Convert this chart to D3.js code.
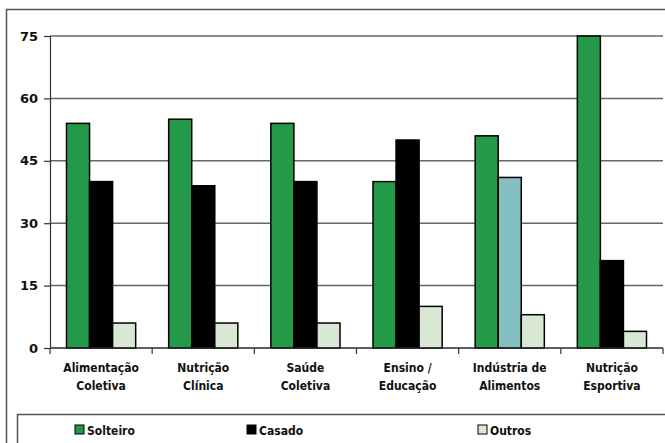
<!DOCTYPE html>
<html>
<head>
<meta charset="utf-8">
<script src="https://cdn.jsdelivr.net/npm/d3@7"></script>
<style>
  body { margin: 0; background: #fff; }
  svg { display: block; }
  .lbl { font-family: "DejaVu Sans Condensed", "DejaVu Sans", sans-serif; font-weight: bold; font-size: 12px; fill: #111; }
</style>
</head>
<body>
<div class="canvas"></div>
<script>
const categories = [
  ['Alimentação', 'Coletiva'],
  ['Nutrição', 'Clínica'],
  ['Saúde', 'Coletiva'],
  ['Ensino /', 'Educação'],
  ['Indústria de', 'Alimentos'],
  ['Nutrição', 'Esportiva']
]
const solteiro = [54, 55, 54, 40, 51, 75]
const casado = [40, 39, 40, 50, 41, 21]
const outros = [6, 6, 6, 10, 8, 4]
const seriesNames = ['Solteiro', 'Casado', 'Outros']
const yTicks = [0, 15, 30, 45, 60, 75]

const colors = ['#249a48', '#000000', '#d9e7d5']
// one bar in the source is drawn in a different colour
const casadoOverride = { 4: '#86bfc1' }

const width = 665, height = 443
const margin = { top: 36, right: 2, bottom: 95, left: 50 }
const graphWidth = width - margin.left - margin.right
const graphHeight = height - margin.top - margin.bottom

const svg = d3.select('.canvas')
  .append('svg')
  .attr('width', width)
  .attr('height', height)

// outer frame
svg.append('rect')
  .attr('x', 6.5).attr('y', 9.5)
  .attr('width', 680).attr('height', 460)
  .attr('fill', 'none').attr('stroke', '#555').attr('stroke-width', 1.5)

const graph = svg.append('g')
  .attr('transform', `translate(${margin.left}, ${margin.top})`)

const y = d3.scaleLinear().domain([0, 75]).range([graphHeight, 0])
const x = d3.scaleBand()
  .domain(d3.range(categories.length))
  .range([0, graphWidth])
const xs = d3.scaleBand()
  .domain(d3.range(3))
  .range([16.5, x.bandwidth() - 16.5])

// gridlines
graph.selectAll('line.grid')
  .data(yTicks)
  .enter().append('line')
  .attr('class', 'grid')
  .attr('x1', 0).attr('x2', graphWidth)
  .attr('y1', d => y(d)).attr('y2', d => y(d))
  .attr('stroke', '#666').attr('stroke-width', 1.5)

// y axis
const yAxis = d3.axisLeft(y).tickValues(yTicks).tickSize(6).tickPadding(6)
const yAxisGroup = graph.append('g').call(yAxis)
yAxisGroup.select('.domain').attr('stroke', '#333').attr('stroke-width', 1.2)
yAxisGroup.selectAll('line').attr('stroke', '#333').attr('stroke-width', 1.2)
yAxisGroup.selectAll('text')
  .attr('font-family', '"DejaVu Sans", sans-serif')
  .attr('font-weight', 'bold')
  .attr('font-size', 13)
  .attr('fill', '#111')

// bars
const series = [solteiro, casado, outros]
series.forEach((vals, s) => {
  graph.selectAll('rect.s' + s)
    .data(vals)
    .enter().append('rect')
    .attr('class', 's' + s)
    .attr('x', (d, i) => x(i) + xs(s))
    .attr('width', xs.bandwidth())
    .attr('y', d => y(d))
    .attr('height', d => graphHeight - y(d))
    .attr('fill', (d, i) => (s === 1 && casadoOverride[i]) ? casadoOverride[i] : colors[s])
    .attr('stroke', '#000')
    .attr('stroke-width', 1.5)
})

// x axis
const xAxisGroup = graph.append('g')
  .attr('transform', `translate(0, ${graphHeight})`)
xAxisGroup.append('line')
  .attr('x1', 0).attr('x2', graphWidth)
  .attr('stroke', '#333').attr('stroke-width', 1.2)
xAxisGroup.selectAll('line.tick')
  .data(d3.range(categories.length + 1))
  .enter().append('line')
  .attr('class', 'tick')
  .attr('x1', d => d * x.step()).attr('x2', d => d * x.step())
  .attr('y1', 0).attr('y2', 6)
  .attr('stroke', '#333').attr('stroke-width', 1.2)
const labels = xAxisGroup.selectAll('text')
  .data(categories)
  .enter().append('text')
  .attr('class', 'lbl')
  .attr('text-anchor', 'middle')
  .attr('transform', (d, i) => `translate(${x(i) + x.bandwidth() / 2}, 24)`)
labels.selectAll('tspan')
  .data(d => d)
  .enter().append('tspan')
  .attr('x', 0)
  .attr('dy', (d, i) => i === 0 ? 0 : 18)
  .text(d => d)

// legend
svg.append('rect')
  .attr('x', 17.5).attr('y', 414.5)
  .attr('width', 660).attr('height', 60)
  .attr('fill', 'none').attr('stroke', '#555').attr('stroke-width', 1.5)

const legendX = [75, 247, 478]
const legend = svg.selectAll('g.leg')
  .data(seriesNames)
  .enter().append('g')
  .attr('class', 'leg')
  .attr('transform', (d, i) => `translate(${legendX[i]}, 425)`)
legend.append('rect')
  .attr('width', 9).attr('height', 9)
  .attr('fill', (d, i) => colors[i])
  .attr('stroke', '#000').attr('stroke-width', 1)
legend.append('text')
  .attr('class', 'lbl')
  .attr('x', 12).attr('y', 9.5)
  .text(d => d)
</script>
</body>
</html>
